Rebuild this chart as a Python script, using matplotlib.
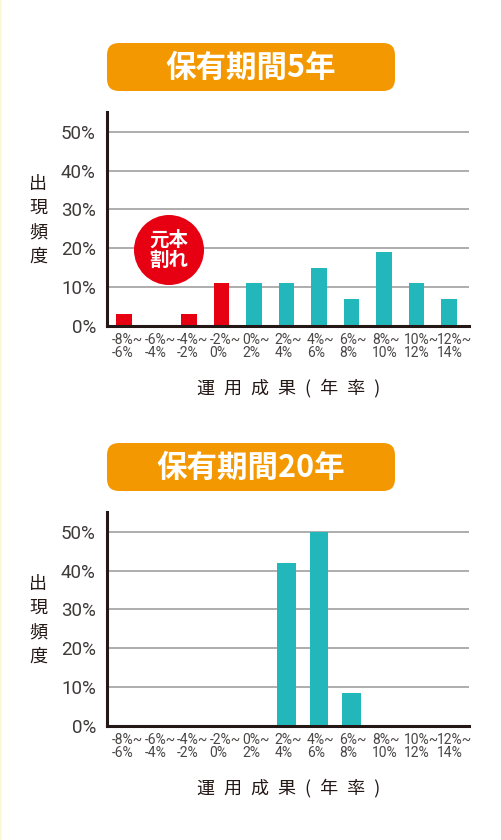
import matplotlib
matplotlib.use('Agg')
import matplotlib.pyplot as plt
from matplotlib.patches import FancyBboxPatch, Circle, Rectangle
from matplotlib.transforms import ScaledTranslation

# ---------------- data ----------------
categories = ['-8%~\n-6%', '-6%~\n-4%', '-4%~\n-2%', '-2%~\n0%', '0%~\n2%',
              '2%~\n4%', '4%~\n6%', '6%~\n8%', '8%~\n10%', '10%~\n12%', '12%~\n14%']
freq_5y = [3, 0, 3, 11, 11, 11, 15, 7, 19, 11, 7]
freq_20y = [0, 0, 0, 0, 0, 42, 50, 8.5, 0, 0, 0]
loss_categories = 4  # first four bins are principal loss (元本割れ)
yticks = [0, 10, 20, 30, 40, 50]
ytick_labels = ['0%', '10%', '20%', '30%', '40%', '50%']
titles = ['保有期間5年', '保有期間20年']
ylabel_text = '出現頻度'
xlabel_text = '運\u2002用\u2002成\u2002果\u2002(\u2002年\u2002率\u2002)'
badge_text = '元本\n割れ'

# ---------------- style ----------------
W, H = 501, 840
ORANGE = '#F39800'
RED = '#E60012'
TEAL = '#22B8BB'
SPINE = '#231815'
GRID = '#9FA0A0'
TXT = '#231815'
CJK = ['Noto Sans CJK JP', 'DejaVu Sans']
NUM = ['Roboto', 'DejaVu Sans']
NARROW = ['Liberation Sans Narrow', 'Roboto', 'DejaVu Sans']

fig = plt.figure(figsize=(W / 100, H / 100), dpi=100)
fig.patch.set_facecolor('white')


def frac(l, t, r, b):
    return [l / W, 1 - b / H, (r - l) / W, (b - t) / H]


def draw_chart(box, values, width):
    ax = fig.add_axes(frac(*box))
    x = list(range(len(categories)))
    colors = [RED if i < loss_categories else TEAL for i in x]
    ax.bar(x, values, width=width, color=colors, zorder=3)
    ax.set_xlim(-0.52, 10.62)
    ax.set_ylim(0, 55.07)
    ax.tick_params(axis='both', length=0)
    ax.tick_params(axis='x', pad=5)
    ax.tick_params(axis='y', pad=8)
    ax.set_yticks(yticks)
    ax.set_yticklabels(ytick_labels, family=NUM, fontweight='normal',
                       fontsize=13.5, color='#3E3A39')
    ax.set_xticks(x)
    ax.set_xticklabels(categories, family=NARROW, fontweight='normal',
                       fontsize=10, color='#4A4746', linespacing=0.9,
                       ha='left', multialignment='left')
    shift = ScaledTranslation(-12 / 100, 0, fig.dpi_scale_trans)
    for lbl in ax.get_xticklabels():
        lbl.set_transform(lbl.get_transform() + shift)
    for s in ['top', 'right']:
        ax.spines[s].set_visible(False)
    for s in ['left', 'bottom']:
        ax.spines[s].set_linewidth(2.2)
        ax.spines[s].set_color(SPINE)
        ax.spines[s].set_zorder(4)
    for yv in yticks[1:]:
        ax.axhline(yv, color=GRID, lw=1.2, zorder=1)
    ax.set_facecolor('none')
    return ax


ax1 = draw_chart((107, 112, 469, 326), freq_5y, 0.48)
ax2 = draw_chart((107, 512, 469, 726), freq_20y, 0.57)

# overlay in pixel coordinates for decorations
ov = fig.add_axes([0, 0, 1, 1], zorder=10)
ov.set_xlim(0, W)
ov.set_ylim(H, 0)
ov.axis('off')
ov.patch.set_visible(False)

ov.add_patch(Rectangle((0, 0), 2, H, color='#FDF8D5', lw=0))

for title, top, ycenter_lbl, xl_y in [(titles[0], 43, 220, 388),
                                        (titles[1], 443, 620, 788)]:
    ov.add_patch(FancyBboxPatch((107 + 12, top + 12), 288 - 24, 48 - 24,
                                boxstyle='round,pad=12', fc=ORANGE, ec='none'))
    ov.text(251, top + 25, title, family=CJK, fontweight='bold', fontsize=22,
            color='white', ha='center', va='center')
    ov.text(38, ycenter_lbl, '\n'.join(ylabel_text), family=CJK, fontsize=13,
            color=TXT, ha='center', va='center', linespacing=1.45)
    ov.text(289, xl_y, xlabel_text, family=CJK, fontsize=13, color=TXT,
            ha='center', va='center')

ov.add_patch(Circle((169, 250), 35, fc=RED, ec='none'))
ov.text(169, 250, badge_text, family=CJK, fontweight='bold', fontsize=14,
        color='white', ha='center', va='center', linespacing=1.1)

fig.savefig('out.png', dpi=100)
